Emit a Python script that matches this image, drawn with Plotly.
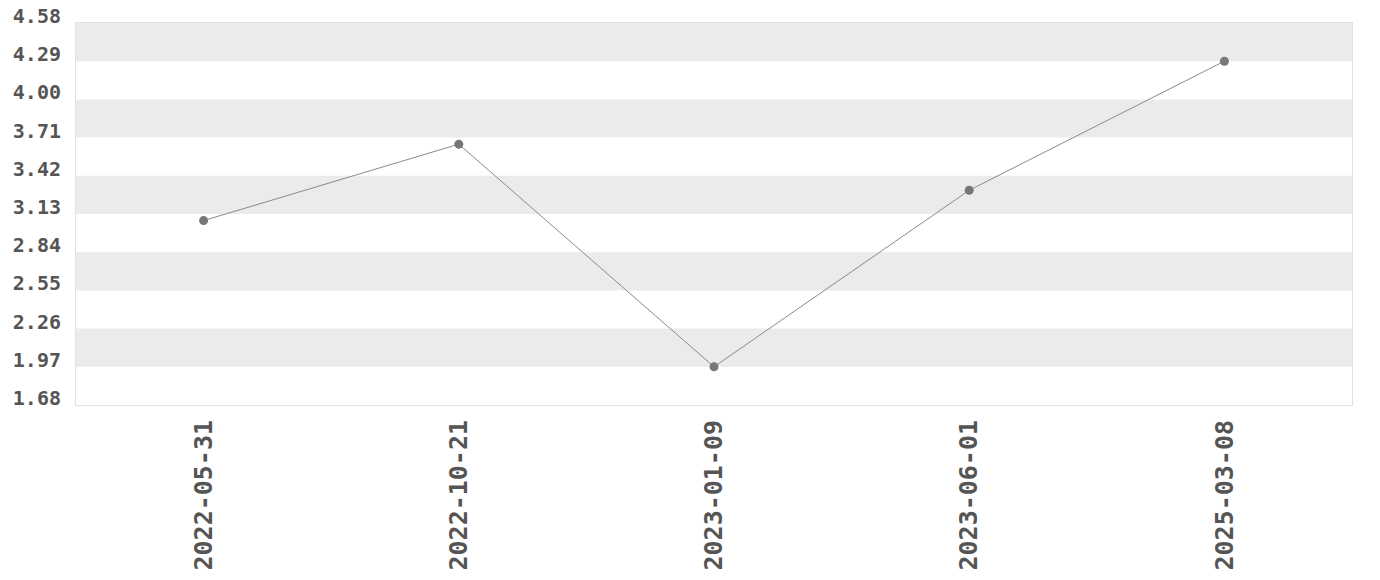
import plotly.graph_objects as go

dates = ["2022-05-31", "2022-10-21", "2023-01-09", "2023-06-01", "2025-03-08"]
values = [3.08, 3.66, 1.97, 3.31, 4.29]
y_ticks = [1.68, 1.97, 2.26, 2.55, 2.84, 3.13, 3.42, 3.71, 4.00, 4.29, 4.58]

font_family = "DejaVu Sans Mono"
text_color = "#555555"

fig = go.Figure()
fig.add_trace(go.Scatter(
    x=dates, y=values, mode="lines+markers",
    line=dict(color="#8a8a8a", width=1),
    marker=dict(color="#777777", size=9),
    showlegend=False,
))

shapes = []
for i in range(len(y_ticks) - 1):
    idx_from_top = len(y_ticks) - 2 - i
    if idx_from_top % 2 == 0:
        shapes.append(dict(type="rect", xref="paper", yref="y", x0=0, x1=1,
                           y0=y_ticks[i], y1=y_ticks[i + 1],
                           fillcolor="#ebebeb", line=dict(width=0), layer="below"))

fig.update_layout(
    width=1380, height=580,
    margin=dict(l=68, r=36, t=15, b=183),
    plot_bgcolor="white", paper_bgcolor="white",
    shapes=shapes,
    font=dict(family=font_family, color=text_color),
)
fig.update_xaxes(
    type="category", range=[-0.5, len(dates) - 0.5],
    showgrid=False, zeroline=False, automargin=False,
    showline=True, mirror=True, linecolor="#e2e2e2", linewidth=1,
    tickangle=-90, ticks="", ticklabelstandoff=4,
    tickfont=dict(family=font_family, size=25, color=text_color, weight="bold"),
)
fig.update_yaxes(
    range=[y_ticks[0], y_ticks[-1]], tickvals=y_ticks,
    ticktext=[f"{v:.2f}" for v in y_ticks],
    showgrid=False, zeroline=False, automargin=False,
    showline=True, mirror=True, linecolor="#e2e2e2", linewidth=1,
    ticks="", ticklabelstandoff=10, ticklabelshift=-7,
    ticklabeloverflow="allow",
    tickfont=dict(family=font_family, size=20, color=text_color, weight="bold"),
)

fig.write_html("out.html")
